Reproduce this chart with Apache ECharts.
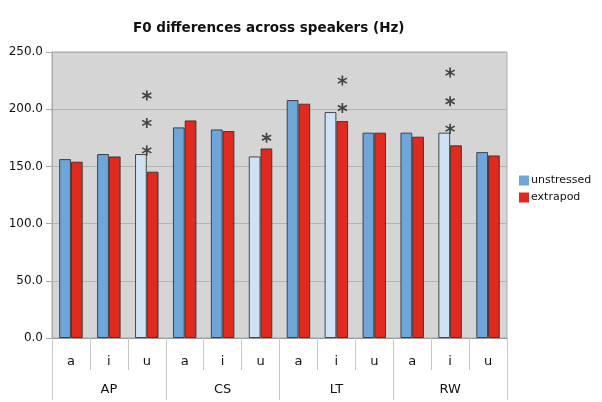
<!DOCTYPE html>
<html>
<head>
<meta charset="utf-8">
<script src="https://cdn.jsdelivr.net/npm/echarts@6/dist/echarts.min.js"></script>
<style>
  html, body { margin: 0; padding: 0; background: #fff; }
  #chart { width: 602px; height: 402px; }
</style>
</head>
<body>
<div id="chart"></div>
<script>
// vowels per speaker, speakers on the second axis row
var vowels = ['a', 'i', 'u', 'a', 'i', 'u', 'a', 'i', 'u', 'a', 'i', 'u'];
var speakers = ['AP', 'CS', 'LT', 'RW'];
var yTicks = [0, 50, 100, 150, 200, 250];

var unstressed = [156.4, 160.8, 160.8, 184.1, 182.3, 158.7, 208.0, 197.5, 179.5, 179.5, 179.5, 162.5];
var extrapod   = [154.1, 158.7, 145.4, 190.2, 180.9, 165.7, 204.8, 189.6, 179.5, 176.0, 168.4, 159.6];

// columns where the unstressed bar is drawn pale
var significant = [2, 5, 7, 10];

// asterisks: [column, height in Hz]
var starsCentre   = [[2, 212], [2, 188], [2, 164], [10, 232], [10, 207], [10, 183]];
var starsExtrapod = [[5, 175], [7, 225], [7, 201]];

var blue = '#6fa6da';
var pale = '#cfe2f5';
var red = '#e02a20';
var edge = 'rgba(45,45,45,0.85)';
var font = 'DejaVu Sans';

// six-spoke asterisk
var asterisk = 'path://M-0.8,-5L0.8,-5L0.8,5L-0.8,5Z' +
    'M3.93,-3.19L4.73,-1.81L-3.93,3.19L-4.73,1.81Z' +
    'M4.73,1.81L3.93,3.19L-4.73,-1.81L-3.93,-3.19Z';

var myChart = echarts.init(document.getElementById('chart'));

var option = {
    animation: false,
    backgroundColor: '#fff',
    title: {
        text: 'F0 differences across speakers (Hz)',
        left: 128,
        top: 16,
        textStyle: { fontFamily: font, fontSize: 13.5, fontWeight: 'bold', color: '#111' }
    },
    legend: {
        orient: 'vertical',
        left: 514,
        top: 170,
        itemWidth: 10,
        itemHeight: 10,
        itemGap: 6,
        icon: 'rect',
        itemStyle: { borderWidth: 0 },
        textStyle: { fontFamily: font, fontSize: 11, color: '#111', padding: [0, 0, 0, -3] },
        data: ['unstressed', 'extrapod']
    },
    grid: {
        left: 52, right: 95, top: 52, bottom: 64,
        show: true,
        backgroundColor: '#d5d5d5',
        borderColor: '#a9a9a9',
        borderWidth: 1
    },
    xAxis: [{
        type: 'category',
        data: vowels,
        position: 'bottom',
        axisLine: { lineStyle: { color: '#9a9a9a' } },
        axisTick: { show: true, interval: 0, length: 32, lineStyle: { color: '#c8c8c8' } },
        axisLabel: { interval: 0, margin: 17, fontFamily: font, fontSize: 13, color: '#111' }
    }, {
        type: 'category',
        data: speakers,
        position: 'bottom',
        axisLine: { show: false },
        axisTick: { show: true, interval: 0, length: 62, lineStyle: { color: '#c8c8c8' } },
        axisLabel: { interval: 0, margin: 45, fontFamily: font, fontSize: 13, color: '#111' }
    }],
    yAxis: {
        type: 'value',
        min: yTicks[0],
        max: yTicks[yTicks.length - 1],
        interval: 50,
        axisLine: { show: true, lineStyle: { color: '#a9a9a9' } },
        axisTick: { show: true, length: 6, lineStyle: { color: '#a9a9a9' } },
        splitLine: { lineStyle: { color: '#b3b3b3' } },
        axisLabel: {
            margin: 9,
            fontFamily: font,
            fontSize: 12,
            color: '#111',
            formatter: function (v) { return v.toFixed(1); }
        }
    },
    series: [{
        name: 'unstressed',
        type: 'bar',
        xAxisIndex: 0,
        barGap: '0%',
        barCategoryGap: '38%',
        itemStyle: { color: blue, borderColor: edge, borderWidth: 1 },
        data: unstressed.map(function (v, i) {
            if (significant.indexOf(i) >= 0) {
                return { value: v, itemStyle: { color: pale } };
            }
            return v;
        })
    }, {
        name: 'extrapod',
        type: 'bar',
        xAxisIndex: 0,
        itemStyle: { color: red, borderColor: edge, borderWidth: 1 },
        data: extrapod
    }, {
        name: 'stars',
        type: 'scatter',
        xAxisIndex: 0,
        symbol: asterisk,
        symbolSize: 10,
        itemStyle: { color: '#1e1e1e' },
        data: starsCentre
    }, {
        name: 'stars2',
        type: 'scatter',
        xAxisIndex: 0,
        symbol: asterisk,
        symbolSize: 10,
        symbolOffset: [6, 0],
        itemStyle: { color: '#1e1e1e' },
        data: starsExtrapod
    }]
};

myChart.setOption(option);
</script>
</body>
</html>
